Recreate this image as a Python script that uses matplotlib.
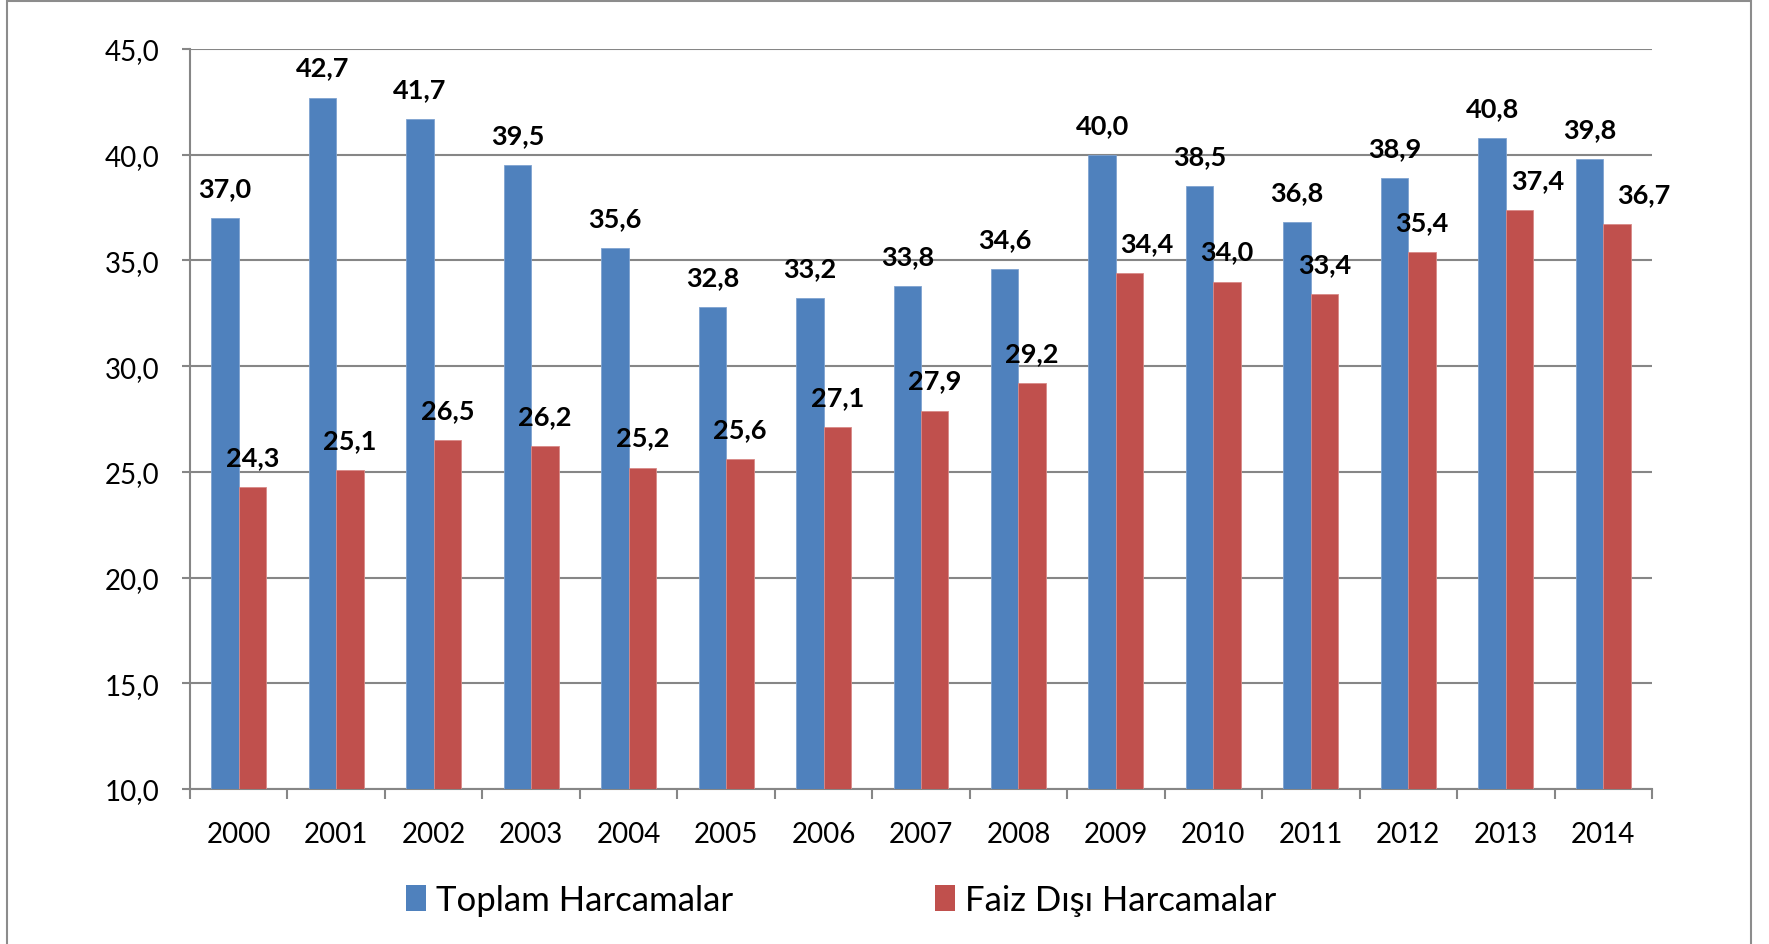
import numpy as np
import matplotlib
matplotlib.use("Agg")
import matplotlib.pyplot as plt
from matplotlib.patches import Patch, Rectangle
from matplotlib.ticker import FuncFormatter, FixedLocator

plt.rcParams['font.family'] = ['Lato', 'DejaVu Sans']

# veriler
years = [str(y) for y in range(2000, 2015)]
toplam = [37.0, 42.7, 41.7, 39.5, 35.6, 32.8, 33.2, 33.8, 34.6, 40.0, 38.5, 36.8, 38.9, 40.8, 39.8]
faiz_disi = [24.3, 25.1, 26.5, 26.2, 25.2, 25.6, 27.1, 27.9, 29.2, 34.4, 34.0, 33.4, 35.4, 37.4, 36.7]
series_names = ["Toplam Harcamalar", "Faiz Dışı Harcamalar"]

# kirmizi etiketlerin yatay kaymasi (piksel)
red_label_dx = [0, 0, 0, 0, 0, 0, 0, 0, 0, 17, 0, 0, 0, 18, 27]

BLUE = "#4F81BD"
RED = "#C0504D"
GRID = "#868686"

W, H = 1769, 945
fig = plt.figure(figsize=(W / 100, H / 100), dpi=100)
ax = fig.add_axes([190 / W, 1 - 790 / H, (1652 - 190) / W, (790 - 50) / H])

x = np.arange(len(years))
bw = 0.282
b1 = ax.bar(x - bw / 2, toplam, bw, color=BLUE, edgecolor="#7FA3D1", linewidth=0.6, zorder=3)
b2 = ax.bar(x + bw / 2, faiz_disi, bw, color=RED, edgecolor="#D98A88", linewidth=0.6, zorder=3)

# veri etiketleri
for rect, v in zip(b1, toplam):
    ax.annotate(f"{v:.1f}".replace(".", ","), (rect.get_x() + rect.get_width() / 2, v),
                xytext=(0, 30), textcoords="offset pixels", ha="center", va="center",
                fontsize=19.5, fontweight="bold", zorder=5)
for rect, v, dx in zip(b2, faiz_disi, red_label_dx):
    ax.annotate(f"{v:.1f}".replace(".", ","), (rect.get_x() + rect.get_width() / 2, v),
                xytext=(dx, 30), textcoords="offset pixels", ha="center", va="center",
                fontsize=19.5, fontweight="bold", zorder=5)

ax.set_ylim(10, 45)
ax.set_xlim(-0.5, len(years) - 0.5)
ax.set_yticks(np.arange(10, 46, 5))
ax.yaxis.set_major_formatter(FuncFormatter(lambda v, p: f"{v:.1f}".replace(".", ",")))
ax.grid(axis="y", color=GRID, linewidth=1.5, zorder=0)
ax.tick_params(axis="y", length=6, width=1.5, color=GRID, pad=16, labelsize=20)

ax.set_xticks(x)
ax.set_xticklabels(years)
ax.xaxis.set_minor_locator(FixedLocator(np.arange(-0.5, len(years), 1.0)))
ax.tick_params(axis="x", which="major", length=0, pad=23, labelsize=20)
ax.tick_params(axis="x", which="minor", length=7, width=1.5, color=GRID)

for s in ["top", "right"]:
    ax.spines[s].set_visible(False)
for s in ["left", "bottom"]:
    ax.spines[s].set_color(GRID)
    ax.spines[s].set_linewidth(1.5)
ax.set_axisbelow(True)

# legend: iki ayri parca
for name, col, lx in [(series_names[0], BLUE, 406), (series_names[1], RED, 935)]:
    fig.legend(handles=[Patch(facecolor=col, edgecolor="none", label=name)],
               loc="center left", bbox_to_anchor=(lx / W, 1 - 901 / H),
               frameon=False, fontsize=25, handlelength=0.57, handleheight=0.8,
               handletextpad=0.3, borderpad=0, borderaxespad=0)

# cerceve
fig.patches.append(Rectangle((7 / W, -0.01), (1751 - 7) / W, 1.01 - 2 / H,
                             transform=fig.transFigure, fill=False,
                             edgecolor="#8C8C8C", linewidth=1.5))

fig.savefig("out.png", dpi=100)
